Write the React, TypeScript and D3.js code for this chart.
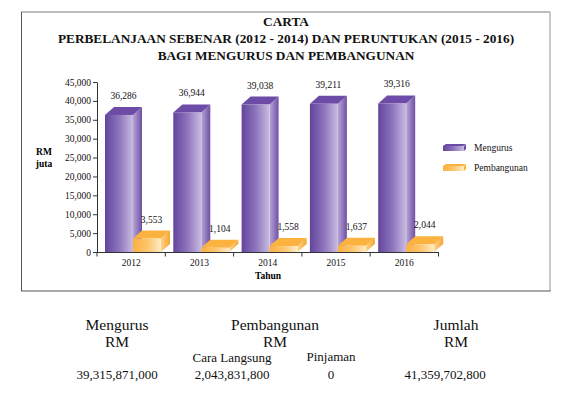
import React, { useEffect, useRef } from "react";
import * as d3 from "d3";

const years = ["2012", "2013", "2014", "2015", "2016"];
const mengurus = [36286, 36944, 39038, 39211, 39316];
const pembangunan = [3553, 1104, 1558, 1637, 2044];
const yTicks = [0, 5000, 10000, 15000, 20000, 25000, 30000, 35000, 40000, 45000];
const titleLines = [
  "CARTA",
  "PERBELANJAAN SEBENAR (2012 - 2014) DAN PERUNTUKAN (2015 - 2016)",
  "BAGI MENGURUS DAN PEMBANGUNAN",
];
const seriesNames = ["Mengurus", "Pembangunan"];

const FONT = '"Liberation Serif", "Times New Roman", serif';

const App: React.FC = () => {
  const ref = useRef<SVGSVGElement>(null);

  useEffect(() => {
    const svg = d3.select(ref.current);
    svg.selectAll("*").remove();

    const defs = svg.append("defs");
    const grad = (id: string, stops: [number, string][]) => {
      const g = defs.append("linearGradient").attr("id", id)
        .attr("x1", "0").attr("x2", "1").attr("y1", "0").attr("y2", "0");
      stops.forEach(([o, c]) => g.append("stop").attr("offset", o).attr("stop-color", c));
    };
    grad("pFront", [[0, "#63449b"], [0.5, "#8d74bd"], [1, "#c9bce0"]]);
    grad("pSide", [[0, "#b8a6d6"], [1, "#6e50a6"]]);
    grad("oFront", [[0, "#fbb040"], [0.55, "#fcc770"], [1, "#feebc6"]]);
    grad("oSide", [[0, "#fdd38a"], [1, "#f7a531"]]);

    // frame
    svg.append("line").attr("x1", 21).attr("x2", 550).attr("y1", 12).attr("y2", 12)
      .attr("stroke", "#a9a9a9").attr("stroke-width", 1.6);
    svg.append("line").attr("x1", 550).attr("x2", 550).attr("y1", 12).attr("y2", 291)
      .attr("stroke", "#b5b5b5").attr("stroke-width", 1.4);
    svg.append("line").attr("x1", 21.5).attr("x2", 21.5).attr("y1", 12).attr("y2", 291)
      .attr("stroke", "#555").attr("stroke-width", 1);
    svg.append("line").attr("x1", 21).attr("x2", 550.5).attr("y1", 291).attr("y2", 291)
      .attr("stroke", "#555").attr("stroke-width", 1.2);

    // title
    svg.append("g").selectAll("text").data(titleLines).enter().append("text")
      .attr("x", 286).attr("y", (d, i) => 26 + i * 17)
      .attr("text-anchor", "middle").style("font-family", FONT)
      .attr("font-weight", "bold").attr("font-size", 13.3).attr("fill", "#111")
      .text(d => d);

    const x = d3.scaleBand().domain(years).range([97, 438.5]).paddingInner(0).paddingOuter(0);
    const y = d3.scaleLinear().domain([0, 45000]).range([252, 82]);

    // y axis
    const ya = svg.append("g").attr("transform", "translate(97,0)")
      .call(d3.axisLeft(y).tickValues(yTicks).tickSize(4).tickSizeOuter(0).tickFormat(d3.format(",")));
    ya.select(".domain").attr("stroke", "#333");
    ya.selectAll(".tick line").attr("stroke", "#333");
    ya.selectAll(".tick text").style("font-family", FONT).attr("font-size", 9.5).attr("fill", "#111").attr("x", -6);

    const dx = 9, dy = 8, bw = 28;

    const drawBar = (x0: number, v: number, front: string, top: string, side: string) => {
      const yt = y(v), yb = y(0);
      const g = svg.append("g");
      g.append("polygon")
        .attr("points", `${x0 + bw},${yt} ${x0 + bw + dx},${yt - dy} ${x0 + bw + dx},${yb - dy} ${x0 + bw},${yb}`)
        .attr("fill", side);
      g.append("polygon")
        .attr("points", `${x0},${yt} ${x0 + dx},${yt - dy} ${x0 + bw + dx},${yt - dy} ${x0 + bw},${yt}`)
        .attr("fill", top);
      g.append("rect").attr("x", x0).attr("y", yt).attr("width", bw).attr("height", yb - yt).attr("fill", front);
      return g;
    };

    years.forEach((yr, i) => {
      const b = x(yr) || 0;
      const px = b + 8, ox = b + 8 + bw;
      drawBar(px, mengurus[i], "url(#pFront)", "#6c4ca6", "url(#pSide)");
      drawBar(ox, pembangunan[i], "url(#oFront)", "#fbb23e", "url(#oSide)");
      svg.append("text").attr("x", px + bw / 2 + dx / 2).attr("y", y(mengurus[i]) - dy - 8)
        .attr("text-anchor", "middle").style("font-family", FONT).attr("font-size", 9.5).attr("fill", "#111")
        .text(d3.format(",")(mengurus[i]));
      svg.append("text").attr("x", ox + bw / 2 + dx / 2).attr("y", y(pembangunan[i]) - dy - 8)
        .attr("text-anchor", "middle").style("font-family", FONT).attr("font-size", 9.5).attr("fill", "#111")
        .text(d3.format(",")(pembangunan[i]));
    });

    // x axis
    svg.append("line").attr("x1", 93).attr("x2", 438.5).attr("y1", 252.5).attr("y2", 252.5)
      .attr("stroke", "#333");
    const edges = years.map(yr => x(yr) || 0).concat([438.5]);
    svg.append("g").selectAll("line").data(edges).enter().append("line")
      .attr("x1", d => d).attr("x2", d => d).attr("y1", 252).attr("y2", 256.5).attr("stroke", "#333");
    svg.append("g").selectAll("text").data(years).enter().append("text")
      .attr("x", d => (x(d) || 0) + x.bandwidth() / 2).attr("y", 266)
      .attr("text-anchor", "middle").style("font-family", FONT).attr("font-size", 9.5).attr("fill", "#111")
      .text(d => d);
    svg.append("text").attr("x", 268).attr("y", 279).attr("text-anchor", "middle")
      .style("font-family", FONT).attr("font-weight", "bold").attr("font-size", 9.5).text("Tahun");

    // y label
    svg.append("text").attr("x", 44).attr("y", 155).attr("text-anchor", "middle").style("font-family", FONT)
      .attr("font-weight", "bold").attr("font-size", 9.5).text("RM");
    svg.append("text").attr("x", 44).attr("y", 167).attr("text-anchor", "middle").style("font-family", FONT)
      .attr("font-weight", "bold").attr("font-size", 9.5).text("juta");

    // legend
    const legendColors = [
      ["#6c4ca6", "url(#pFront)"],
      ["#fbb23e", "url(#oFront)"],
    ];
    seriesNames.forEach((name, i) => {
      const ly = 146 + i * 20;
      svg.append("polygon")
        .attr("points", `443,${ly} 446,${ly - 2} 466,${ly - 2} 463,${ly}`)
        .attr("fill", legendColors[i][0]);
      svg.append("rect").attr("x", 443).attr("y", ly).attr("width", 21).attr("height", 5)
        .attr("fill", legendColors[i][1]);
      svg.append("polygon")
        .attr("points", `464,${ly} 466,${ly - 2} 466,${ly + 3} 464,${ly + 5}`)
        .attr("fill", legendColors[i][0]);
      svg.append("text").attr("x", 474).attr("y", ly + 5).style("font-family", FONT)
        .attr("font-size", 9.5).attr("fill", "#111").text(name);
    });

    // summary table below the chart
    const t = svg.append("g").style("font-family", FONT).attr("fill", "#111").attr("text-anchor", "middle");
    const heads: [number, string][] = [[117, "Mengurus"], [275, "Pembangunan"], [456, "Jumlah"]];
    heads.forEach(([hx, h]) => {
      t.append("text").attr("x", hx).attr("y", 330).attr("font-size", 15.5).text(h);
      t.append("text").attr("x", hx).attr("y", 347).attr("font-size", 15.5).text("RM");
    });
    t.append("text").attr("x", 232).attr("y", 362).attr("font-size", 13).text("Cara Langsung");
    t.append("text").attr("x", 331).attr("y", 361).attr("font-size", 13).text("Pinjaman");
    const vals: [number, string][] = [[117, "39,315,871,000"], [232, "2,043,831,800"], [331, "0"], [445, "41,359,702,800"]];
    vals.forEach(([vx, v]) => {
      t.append("text").attr("x", vx).attr("y", 379).attr("font-size", 13).text(v);
    });
  }, []);

  return (
    <svg ref={ref} width={564} height={394}
      style={{ position: "absolute", left: 0, top: 0, background: "#fff" }} />
  );
};

export default App;
